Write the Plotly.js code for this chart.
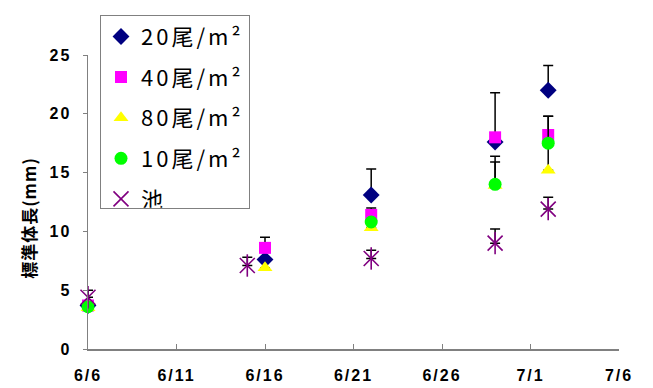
<!DOCTYPE html>
<html><head><meta charset="utf-8">
<script src="https://cdn.plot.ly/plotly-3.0.1.min.js"></script>
<style>html,body{margin:0;padding:0;background:#fff}#c{width:653px;height:388px}
.legendtext{letter-spacing:3px}
.ytitle{letter-spacing:1px}
.g-ytitle{transform:translate(0px,16px)}
</style>
</head><body><div id="c"></div>
<script>
// dates of measurement
const dates = ['2000-06-06','2000-06-16','2000-06-22','2000-06-29','2000-07-02'];
const pondDates = ['2000-06-06','2000-06-15','2000-06-22','2000-06-29','2000-07-02'];
// series values (mm) and upward error
const d20 = [3.7, 7.6, 13.1, 17.6, 22.0];
const e20 = [0, 0, 2.2, 4.2, 2.1];
const d40 = [3.7, 8.6, 11.4, 18.0, 18.2];
const e40 = [0, 0.9, 0.6, 0, 1.6];
const d80 = [3.5, 6.9, 10.3, 13.9, 15.2];
const e80 = [0, 0, 0, 2.0, 4.6];
const d10 = [3.6, null, 10.8, 14.0, 17.5];
const e10 = [0, 0, 0, 2.4, 0];
const dPond = [4.4, 7.1, 7.7, 9.0, 11.9];
const ePond = [0.6, 0.7, 0.7, 1.2, 1.0];
// axis ticks
const xTickVals = ['2000-06-06','2000-06-11','2000-06-16','2000-06-21','2000-06-26','2000-07-01','2000-07-06'];
const xTickText = ['6/6','6/11','6/16','6/21','6/26','7/1','7/6'];
const names = ['20尾/m²','40尾/m²','80尾/m²','10尾/m²','池'];

function err(arr){return {type:'data',symmetric:false,array:arr,arrayminus:arr.map(()=>0),color:'#000',thickness:1.5,width:5};}
function tr(x,y,e,name,sym,col,size,grp,extra){
  return Object.assign({x:x,y:y,name:name,type:'scatter',mode:'markers',cliponaxis:false,legendgroup:grp,
    marker:{symbol:sym,color:col,size:size,line:{width:0}},error_y:err(e)},extra||{});
}
const data=[
  tr(dates,d20,e20,names[0],'diamond','#000080',13,'a'),
  tr(dates,d40,e40,names[1],'square','#FF00FF',12,'b'),
  tr(dates,d80,e80,names[2],'triangle-up','#FFFF00',13,'c'),
  tr(dates,d10,e10,names[3],'circle','#00FF00',13,'d'),
  {x:pondDates,y:dPond,name:names[4],type:'scatter',mode:'markers',cliponaxis:false,legendgroup:'e',
   marker:{symbol:'x-thin-open',color:'#800080',size:15,line:{width:1.6,color:'#800080'}},error_y:err(ePond)},
  {x:pondDates,y:dPond,name:names[4],type:'scatter',mode:'markers',cliponaxis:false,legendgroup:'e',showlegend:false,
   marker:{symbol:'line-ns-open',color:'#800080',size:16,line:{width:1.6,color:'#800080'}}}
];
const tickFont={family:'Liberation Sans, Arial, sans-serif',size:16,color:'#000',weight:'bold'};
const layout={
  width:653,height:388,paper_bgcolor:'#fff',plot_bgcolor:'#fff',
  margin:{l:88,r:34,t:55,b:39},
  showlegend:true,
  legend:{x:0.0226,y:1.137,xanchor:'left',yanchor:'top',bgcolor:'#fff',bordercolor:'#808080',borderwidth:1,
    font:{family:'Noto Sans CJK JP, sans-serif',size:22,color:'#000'},tracegroupgap:9,itemwidth:30},
  xaxis:{type:'date',range:['2000-06-06','2000-07-06'],tickvals:xTickVals,ticktext:xTickText,
    showgrid:false,zeroline:false,showline:true,linecolor:'#808080',linewidth:1.5,
    ticks:'inside',ticklen:5,tickcolor:'#808080',tickfont:tickFont,ticklabelstandoff:11},
  yaxis:{range:[0,25],dtick:5,tick0:0,showgrid:false,zeroline:false,showline:true,linecolor:'#808080',linewidth:1.5,
    ticks:'outside',ticklen:4,tickcolor:'#808080',tickfont:tickFont,ticklabelstandoff:8,
    title:{text:'標準体長(mm)',font:{family:'Noto Sans CJK JP, sans-serif',size:17,color:'#000',weight:'bold'},standoff:12}}
};
Plotly.newPlot('c',data,layout,{displayModeBar:false,staticPlot:true}).then(function(gd){
  gd.querySelectorAll('.xaxislayer-above text, .yaxislayer-above text').forEach(function(t){
    t.style.letterSpacing='2px';
  });
});
</script></body></html>
